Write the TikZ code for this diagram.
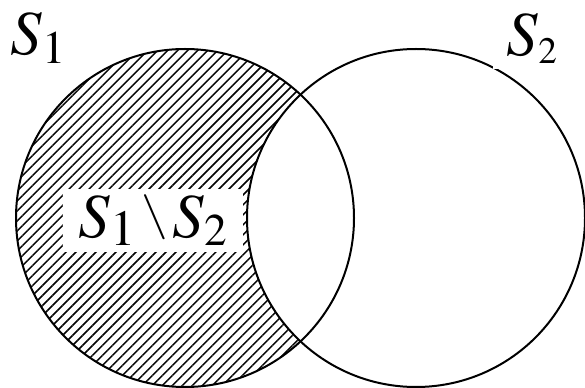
\documentclass[tikz,border=0pt]{standalone}
\usepackage{mathptmx}
\usetikzlibrary{patterns.meta}
\newcommand\mysubscr[3]{\raisebox{-#2}{\fontsize{#1}{#1}\selectfont$#3$}}
\newcommand\thinbslash{\raisebox{7pt}{\scalebox{0.85}[0.72]{$\setminus$}}}
\begin{document}
\begin{tikzpicture}[x=0.75pt,y=-0.75pt,
  setline/.style={line width=1.5pt},
  hatch/.style={pattern={Lines[angle=45,distance=5.3pt,line width=1.1pt]},pattern color=black},
  lbl/.style={inner sep=0pt,fill=white,font=\fontsize{47}{50}\selectfont}]
\useasboundingbox (0,0) rectangle (585,388);
\coordinate (c1) at (185,218);
\coordinate (c2) at (416,218);
\begin{scope}
  \clip (c1) circle[radius=126.75pt];
  \path[hatch,even odd rule] (c1) circle[radius=126.75pt] (c2) circle[radius=126.75pt];
\end{scope}
\draw[setline] (c1) circle[radius=126.75pt];
\draw[setline] (c2) circle[radius=126.75pt];
\node[lbl,anchor=base west] (s1) at (10,55) {$S$\mysubscr{35pt}{6.5pt}{1}};
\node[lbl,anchor=base west,inner xsep=10pt,inner ysep=4.5pt] (s2) at (493,56) {$S$\mysubscr{28pt}{5.5pt}{2}};
\node[lbl,minimum width=135pt,minimum height=47.25pt] (diff) at (153,220.5)
  {$S$\mysubscr{38pt}{6pt}{1}\hspace{4pt}\thinbslash\hspace{4pt}$S$\mysubscr{34pt}{6pt}{2}};
\end{tikzpicture}
\end{document}
